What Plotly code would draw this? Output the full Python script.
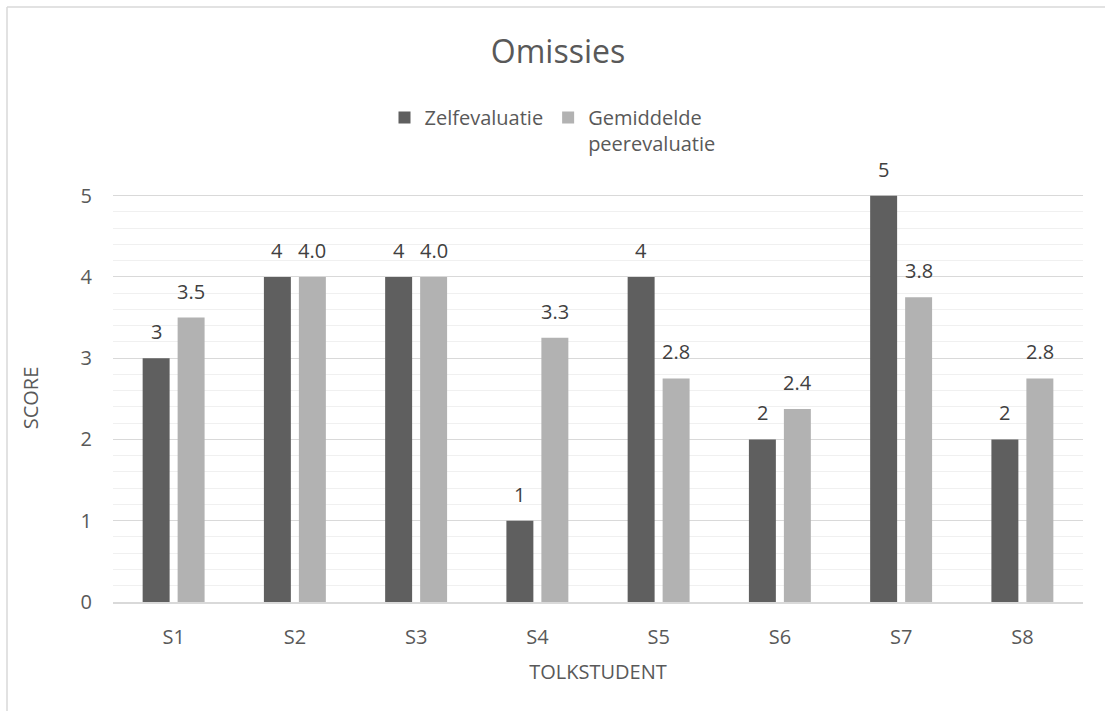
import plotly.graph_objects as go

# Scores per interpreting student
students = ["S1", "S2", "S3", "S4", "S5", "S6", "S7", "S8"]
zelfevaluatie = [3, 4, 4, 1, 4, 2, 5, 2]
peerevaluatie = [3.5, 4.0, 4.0, 3.25, 2.75, 2.375, 3.75, 2.75]

series_names = ["Zelfevaluatie", "Gemiddelde<br>peerevaluatie"]
colors = ["#5F5F5F", "#B2B2B2"]

FONT = "Open Sans, Lato, DejaVu Sans, sans-serif"
TEXT = "#595959"
LABEL = "#404040"
FS = 20

fig = go.Figure()
fig.add_trace(go.Bar(x=students, y=zelfevaluatie, name=series_names[0],
                     marker=dict(color=colors[0], line=dict(width=0))))
fig.add_trace(go.Bar(x=students, y=peerevaluatie, name=series_names[1],
                     marker=dict(color=colors[1], line=dict(width=0))))

# value labels above each bar (integers for self-evaluation, one decimal for peers)
annotations = []
for xs, ys, shift, fmt in [(students, zelfevaluatie, -17.5, "{:.0f}"),
                           (students, peerevaluatie, 17.5, None)]:
    for x, y in zip(xs, ys):
        if fmt:
            txt = fmt.format(y)
        else:
            # round half up, like the spreadsheet display
            txt = "{:.1f}".format(int(y * 10 + 0.5) / 10)
        annotations.append(dict(x=x, y=y, xref="x", yref="y", text=txt,
                                showarrow=False, xshift=shift, yshift=11,
                                yanchor="bottom",
                                font=dict(family=FONT, size=FS, color=LABEL)))

fig.update_layout(
    width=1105, height=711,
    paper_bgcolor="white", plot_bgcolor="white",
    margin=dict(l=113, r=22, t=194, b=109),
    font=dict(family=FONT, size=FS, color=TEXT),
    title=dict(text="Omissies", x=0.505, xanchor="center",
               y=1 - 52 / 711, yanchor="middle",
               font=dict(family=FONT, size=32, color=TEXT)),
    barmode="group", bargap=0.423, bargroupgap=0.229,
    legend=dict(orientation="h", xref="container", yref="container",
                x=0.5, xanchor="center", y=1 - 98 / 711, yanchor="top",
                valign="top", font=dict(family=FONT, size=FS, color=TEXT),
                itemwidth=30, bgcolor="rgba(0,0,0,0)"),
    annotations=annotations,
    showlegend=True,
)

fig.update_yaxes(
    range=[0, 5.02], dtick=1, tick0=0,
    showgrid=True, gridcolor="#D9D9D9", gridwidth=1,
    minor=dict(dtick=0.2, showgrid=True, gridcolor="#F0F0F0", gridwidth=1),
    zeroline=False, showline=False, ticks="",
    ticklabelstandoff=20,
    tickfont=dict(family=FONT, size=FS, color=TEXT),
    title=dict(text="SCORE", standoff=36,
               font=dict(family=FONT, size=FS, color=TEXT)),
)
fig.update_xaxes(
    showline=True, linecolor="#D9D9D9", linewidth=1.5,
    showgrid=False, ticks="", ticklabelstandoff=16,
    tickfont=dict(family=FONT, size=FS, color=TEXT),
    title=dict(text="TOLKSTUDENT", standoff=16,
               font=dict(family=FONT, size=FS, color=TEXT)),
)

# chart-area frame (top and left edges)
fig.add_shape(type="line", xref="paper", yref="paper",
              x0=(7 - 113) / 970, x1=1.05, y0=(602 - 7) / 408, y1=(602 - 7) / 408,
              line=dict(color="#D9D9D9", width=1.5))
fig.add_shape(type="line", xref="paper", yref="paper",
              x0=(7 - 113) / 970, x1=(7 - 113) / 970, y0=(602 - 7) / 408, y1=-0.3,
              line=dict(color="#D9D9D9", width=1.5))

fig.write_html("out.html")
